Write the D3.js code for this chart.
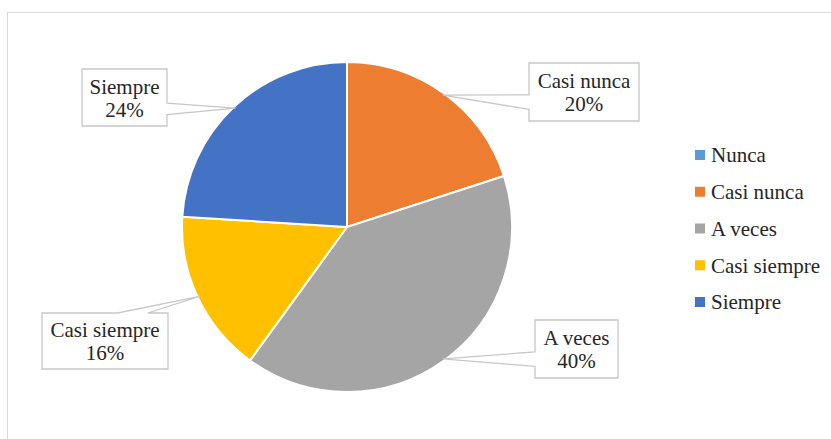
<!DOCTYPE html>
<html>
<head>
<meta charset="utf-8">
<script src="https://cdn.jsdelivr.net/npm/d3@7"></script>
<style>
  html, body { margin: 0; padding: 0; background: #fff; }
  svg { display: block; }
</style>
</head>
<body>
<svg id="chart" width="831" height="439"></svg>
<script>
// ---- data ----
const categories = ["Nunca", "Casi nunca", "A veces", "Casi siempre", "Siempre"];
const values = [0, 20, 40, 16, 24];
const percentLabels = ["0%", "20%", "40%", "16%", "24%"];
const colors = ["#5B9BD5", "#ED7D31", "#A5A5A5", "#FFC000", "#4472C4"];

// ---- layout (label callout boxes: x, y, w, h, side of pointer) ----
const calloutBoxes = {
  "Casi nunca":   {x: 529, y: 63,  w: 110, h: 58, side: "left"},
  "A veces":      {x: 535, y: 320, w: 83,  h: 58, side: "left"},
  "Casi siempre": {x: 42,  y: 313, w: 126, h: 56, side: "top"},
  "Siempre":      {x: 82,  y: 69,  w: 85,  h: 57, side: "right"}
};

// pick an installed serif font
function pickFont() {
  const cands = ["Liberation Serif", "Times New Roman", "Tinos", "Nimbus Roman", "Noto Serif", "DejaVu Serif"];
  const ctx = document.createElement("canvas").getContext("2d");
  const s = "Casi siempre Nunca 24% WMmil";
  const base = {};
  ["monospace", "sans-serif"].forEach(b => { ctx.font = `40px ${b}`; base[b] = ctx.measureText(s).width; });
  for (const c of cands) {
    let ok = true;
    for (const b of ["monospace", "sans-serif"]) {
      ctx.font = `40px "${c}", ${b}`;
      if (Math.abs(ctx.measureText(s).width - base[b]) < 0.5) ok = false;
    }
    if (ok) return `"${c}", serif`;
  }
  return "serif";
}
const font = pickFont();

const svg = d3.select("#chart");

// chart border (only top & left visible in frame)
svg.append("rect")
  .attr("x", 7.5).attr("y", 12.5)
  .attr("width", 900).attr("height", 500)
  .attr("fill", "#fff").attr("stroke", "#d9d9d9").attr("stroke-width", 1);

const cx = 347, cy = 227, R = 165;
const data = categories.map((c, i) => ({cat: c, value: values[i], label: percentLabels[i], color: colors[i]}));

const pie = d3.pie().value(d => d.value).sort(null).startAngle(0).endAngle(2 * Math.PI);
const arc = d3.arc().innerRadius(0).outerRadius(R);
const arcs = pie(data);

const g = svg.append("g").attr("transform", `translate(${cx},${cy})`);
g.selectAll("path.slice")
  .data(arcs.filter(d => d.data.value > 0))
  .join("path")
  .attr("class", "slice")
  .attr("d", arc)
  .attr("fill", d => d.data.color)
  .attr("stroke", "#fff")
  .attr("stroke-width", 2)
  .attr("stroke-linejoin", "round");

// callouts
const calloutG = svg.append("g");
arcs.filter(d => d.data.value > 0).forEach(d => {
  const b = calloutBoxes[d.data.cat];
  if (!b) return;
  const mid = (d.startAngle + d.endAngle) / 2;
  const tr = R - 2;
  const tx = cx + tr * Math.sin(mid), ty = cy - tr * Math.cos(mid);
  const x0 = b.x, y0 = b.y, x1 = b.x + b.w, y1 = b.y + b.h;
  let p;
  if (b.side === "left") {
    const a = y0 + 0.55 * b.h, c = y0 + 0.8 * b.h;
    p = `M${x0},${y0}L${x1},${y0}L${x1},${y1}L${x0},${y1}L${x0},${c}L${tx},${ty}L${x0},${a}Z`;
  } else if (b.side === "right") {
    const a = y0 + 0.6 * b.h, c = y0 + 0.8 * b.h;
    p = `M${x0},${y0}L${x1},${y0}L${x1},${a}L${tx},${ty}L${x1},${c}L${x1},${y1}L${x0},${y1}Z`;
  } else {
    const a = x0 + 0.6 * b.w, c = x0 + 0.84 * b.w;
    p = `M${x0},${y0}L${a},${y0}L${tx},${ty}L${c},${y0}L${x1},${y0}L${x1},${y1}L${x0},${y1}Z`;
  }
  calloutG.append("path")
    .attr("d", p)
    .attr("fill", "#fff")
    .attr("stroke", "#c8c8c8")
    .attr("stroke-width", 1.3)
    .attr("stroke-linejoin", "miter");
  const t = calloutG.append("text")
    .style("font-family", font)
    .style("font-size", "21px")
    .attr("fill", "#262626")
    .attr("text-anchor", "middle");
  const mx = x0 + b.w / 2, my = y0 + b.h / 2;
  t.append("tspan").attr("x", mx).attr("y", my - 4).text(d.data.cat);
  t.append("tspan").attr("x", mx).attr("y", my + 19).text(d.data.label);
});

// legend
const legendY = d3.scalePoint().domain(categories).range([155, 302]);
const lg = svg.append("g");
categories.forEach((c, i) => {
  const y = legendY(c);
  lg.append("rect")
    .attr("x", 695).attr("y", y - 5)
    .attr("width", 10).attr("height", 10)
    .attr("fill", colors[i]);
  lg.append("text")
    .attr("x", 711).attr("y", y)
    .attr("dy", "0.35em")
    .style("font-family", font)
    .style("font-size", "21px")
    .attr("fill", "#262626")
    .text(c);
});
</script>
</body>
</html>
